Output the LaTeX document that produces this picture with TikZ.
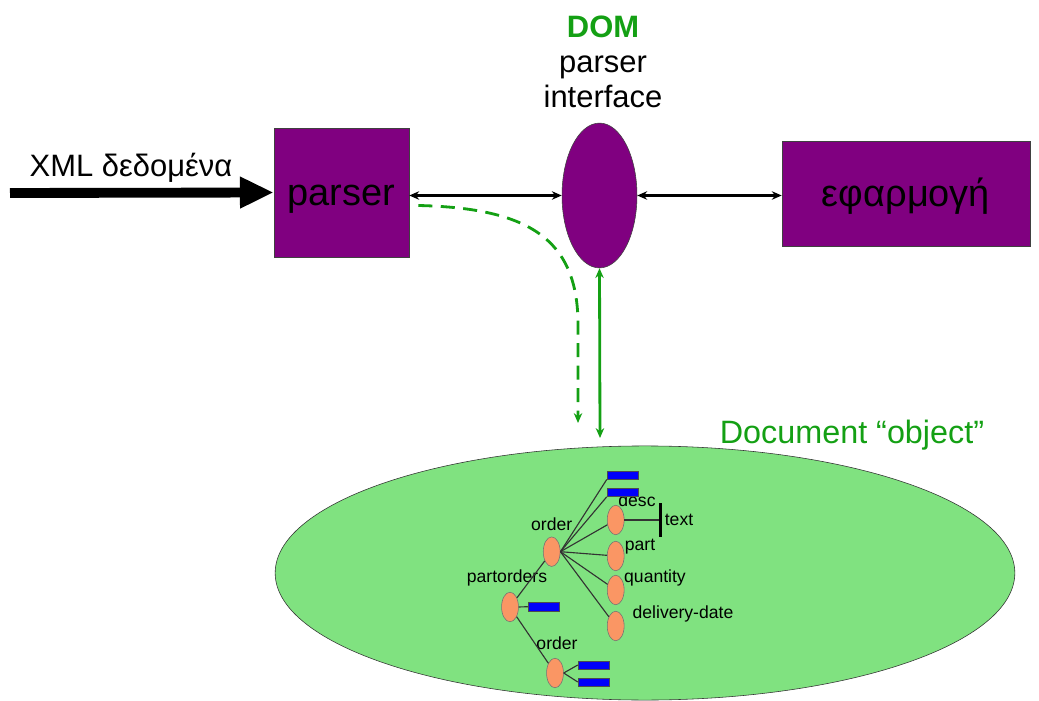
\documentclass[tikz,border=0pt]{standalone}
\usepackage{fontspec}
\setmainfont{Liberation Sans}
\usetikzlibrary{arrows.meta,shapes.geometric}
\definecolor{domviolet}{RGB}{128,0,128}
\definecolor{domgreen}{RGB}{20,160,20}
\definecolor{docgreen}{RGB}{128,226,128}
\definecolor{elemorange}{RGB}{250,150,100}
\definecolor{leafblue}{RGB}{0,0,250}
\begin{document}
\begin{tikzpicture}[x=0.025cm,y=-0.025cm,
    box/.style={draw=black!75,fill=domviolet,inner sep=0pt},
    boxtext/.style={font=\fontsize{27}{30}\selectfont,inner sep=0pt},
    elem/.style={ellipse,draw=black!55,fill=elemorange,minimum width=12pt,minimum height=21pt,inner sep=0pt},
    leaf/.style={draw=black!70,fill=leafblue,minimum width=22pt,minimum height=6pt,inner sep=0pt},
    tag/.style={font=\fontsize{12.5}{14}\selectfont,inner sep=0pt},
    link/.style={black!80,line width=0.8pt},
    call/.style={line width=2pt,{Stealth[length=7pt,width=6pt]}-{Stealth[length=7pt,width=6pt]}}]
    \useasboundingbox (0,0) rectangle (1039,701);
    \node[box,minimum width=96pt,minimum height=91.8pt] (parser) at (341.5,192.5) {};
    \node[boxtext] (parsertext) at ([yshift=-5pt]parser) {parser};
    \node[box,minimum width=176.4pt,minimum height=74.7pt] (app) at (906,193.5) {};
    \node[boxtext] (apptext) at ([yshift=-2pt]app) {εφαρμογή};
    \node[ellipse,draw=black!75,fill=domviolet,minimum width=53.3pt,minimum height=103pt,inner sep=0pt] (dom) at (599.5,195.5) {};
    \node[align=center,font=\fontsize{22}{25}\selectfont] (domlabel) at (603,62)
        {\textcolor{domgreen}{\textbf{DOM}}\\parser\\interface};
    \node[font=\fontsize{22}{25}\selectfont,inner sep=0pt] (xmltext) at (131,168) {XML δεδομένα};
    \coordinate (xmlin) at (10,193);
    \draw[line width=7pt,-{Triangle[length=24pt,width=21pt]}] (xmlin) -- (parser.west);
    \draw[call] (parser.east |- dom) -- (dom.west);
    \draw[call] (dom.east) -- (app.west |- dom.east);

    \node[ellipse,draw=black!80,fill=docgreen,minimum width=526pt,minimum height=180.7pt,inner sep=0pt] (doc) at (645,573) {};
    \node[text=domgreen,font=\fontsize{23}{26}\selectfont,inner sep=0pt] (doclabel) at (852,435) {Document “object”};
    \coordinate (docend) at (600,438);
    \coordinate (dashend) at (578,423);
    \draw[domgreen,line width=2pt,{Stealth[length=7pt,width=6pt]}-{Stealth[length=7pt,width=6pt]}] (dom.south) -- (docend);
    \draw[domgreen,line width=2pt,dash pattern=on 10pt off 6pt,-{Stealth[length=7pt,width=6pt]}]
        ([shift={(9,13)}]parser.east) .. controls (530,208) and (576,240) .. (578,320) -- (dashend);

    \node[elem] (order) at (551.7,551.7) {};
    \node[elem] (partorders) at (510,607) {};
    \node[elem] (suborder) at (555,673) {};
    \node[elem] (desc) at (615.7,520) {};
    \node[elem] (part) at (615.7,556) {};
    \node[elem] (quantity) at (615.7,590) {};
    \node[elem] (ddate) at (615.7,626) {};
    \node[tag] (ordertag) at (551.7,524) {order};
    \node[tag] (desctag) at (637,500) {desc};
    \node[tag] (texttag) at (679,520) {text};
    \node[tag] (parttag) at (640,547) {part};
    \node[tag] (quantitytag) at (655,578) {quantity};
    \node[tag] (ddatetag) at (683,614) {delivery-date};
    \node[tag] (partorderstag) at (507,578) {partorders};
    \node[tag] (subordertag) at (557,643) {order};
    \node[leaf] (la) at (622.5,475) {};
    \node[leaf] (lb) at (622.5,492.3) {};
    \node[leaf] (lc) at (543.5,606.7) {};
    \node[leaf] (ld) at (593.5,665) {};
    \node[leaf] (le) at (593.5,682) {};
    \coordinate (textbar) at (660.7,520);
    \draw[link] (order.east) -- (la.south west);
    \draw[link] (order.east) -- (lb.south west);
    \draw[link] (order.east) -- (desc);
    \draw[link] (order.east) -- (part);
    \draw[link] (order.east) -- (quantity);
    \draw[link] (order.east) -- (ddate);
    \draw[link] (desc.east) -- (textbar);
    \draw[line width=2.2pt] ([yshift=12]textbar) -- ([yshift=-12]textbar);
    \draw[link] (partorders) -- (order);
    \draw[link] (partorders.east) -- (lc.west);
    \draw[link] (partorders) -- (suborder);
    \draw[link] (suborder.east) -- (ld.west);
    \draw[link] (suborder.east) -- (le.west);
\end{tikzpicture}
\end{document}
